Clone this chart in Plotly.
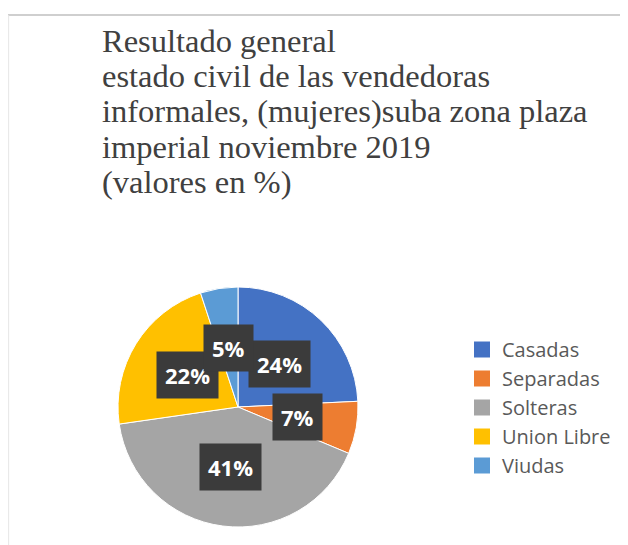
import math
import plotly.graph_objects as go

# data
categorias = ["Casadas", "Separadas", "Solteras", "Union Libre", "Viudas"]
porcentajes = [24, 7, 41, 22, 5]
colores = ["#4472C4", "#ED7D31", "#A5A5A5", "#FFC000", "#5B9BD5"]
titulo = [
    "Resultado general",
    "estado civil de las vendedoras",
    "informales, (mujeres)suba zona plaza",
    "imperial noviembre 2019",
    "(valores en %)",
]

W, H = 628, 545
OFF = 8  # page body margin, figure is drawn 8px in from the corner
# pie placement in figure pixels
CX, CY, R = 238 - OFF, 407 - OFF, 120


def px_x(x):
    return x / W


def px_y(y):
    return 1 - y / H


fig = go.Figure()
fig.add_trace(go.Pie(
    labels=categorias,
    values=porcentajes,
    sort=False,
    direction="clockwise",
    rotation=0,
    marker=dict(colors=colores, line=dict(color="white", width=1)),
    textinfo="none",
    hoverinfo="label+percent",
    showlegend=False,
    domain=dict(x=[px_x(CX - R), px_x(CX + R)],
                y=[px_y(CY + R), px_y(CY - R)]),
))

# legend entries with bigger square swatches than the pie legend gives
for cat, col in zip(categorias, colores):
    fig.add_trace(go.Scatter(
        x=[None], y=[None], mode="markers", name=cat,
        marker=dict(symbol="square", size=16, color=col),
        hoverinfo="skip",
    ))

annotations = []
# title, one annotation per line (Excel line spacing is tighter than plotly's)
fs_titulo = 32.5
for i, linea in enumerate(titulo):
    baseline = 52 - OFF + i * 35.3
    annotations.append(dict(
        text=linea, x=px_x(103 - OFF - 3), y=px_y(baseline - 0.35 * fs_titulo),
        xref="paper", yref="paper", xanchor="left", yanchor="middle",
        showarrow=False,
        font=dict(family="Liberation Serif", size=fs_titulo, color="#404040"),
    ))

# data labels in dark boxes, at the middle of each slice
total = sum(porcentajes)
acum = 0
for v in porcentajes:
    mid = (acum + v / 2) / total * 2 * math.pi
    acum += v
    lx = CX + 0.5 * R * math.sin(mid)
    ly = CY - 0.5 * R * math.cos(mid)
    annotations.append(dict(
        text="<b>%d%%</b>" % round(v / total * 100),
        x=px_x(lx), y=px_y(ly), xref="paper", yref="paper",
        xanchor="center", yanchor="middle",
        showarrow=False, bgcolor="#3b3b3b", borderpad=8,
        font=dict(family="Open Sans", size=22, color="white"),
    ))

fig.update_layout(
    width=W, height=H,
    margin=dict(l=0, r=0, t=0, b=0),
    paper_bgcolor="white",
    plot_bgcolor="white",
    xaxis=dict(visible=False),
    yaxis=dict(visible=False),
    showlegend=True,
    legend=dict(
        x=px_x(502 - OFF - 40), xanchor="left", y=px_y(350 - OFF - 20), yanchor="top",
        font=dict(family="Open Sans", size=20, color="#595959"),
        bgcolor="rgba(0,0,0,0)", tracegroupgap=0,
    ),
    annotations=annotations,
    shapes=[
        dict(type="line", xref="paper", yref="paper", x0=0, x1=1,
             y0=px_y(15 - OFF), y1=px_y(15 - OFF), line=dict(color="#bfbfbf", width=1.5)),
        dict(type="line", xref="paper", yref="paper", x0=0.001, x1=0.001,
             y0=0, y1=px_y(15 - OFF), line=dict(color="#e6e6e6", width=1)),
    ],
)

fig.write_html("out.html")
